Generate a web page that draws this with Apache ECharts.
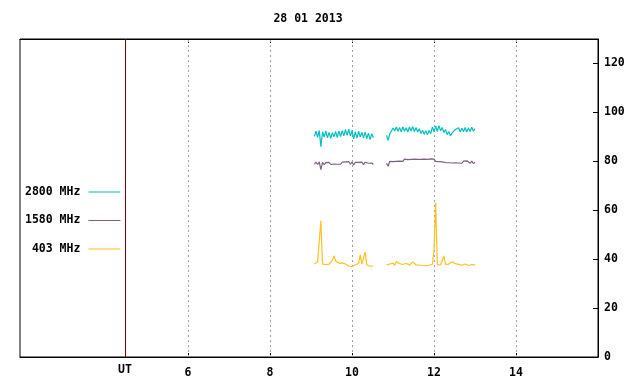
<!DOCTYPE html>
<html>
<head>
<meta charset="utf-8">
<script src="https://cdn.jsdelivr.net/npm/echarts@6/dist/echarts.min.js"></script>
<style>
  html, body { margin: 0; padding: 0; background: #fff; }
  #chart { width: 640px; height: 384px; }
</style>
</head>
<body>
<div id="chart"></div>
<script>
// time grid of the two recording blocks (UT hours)
const start1 = 9.08, start2 = 10.84, step = 0.04;

// 2800 MHz
const f2800a = [90.2, 92.3, 89.8, 92.6, 86.0, 92.1, 89.9, 92.4, 89.6, 91.8, 89.4, 91.7, 90.0, 92.2, 89.7, 92.3, 90.1, 92.5, 90.4, 93.0, 90.6, 93.1, 90.3, 92.6, 89.2, 92.0, 89.5, 92.3, 89.9, 91.8, 89.6, 91.9, 89.3, 91.5, 88.9, 91.3, 89.6];
const f2800b = [90.6, 88.6, 91.2, 92.0, 93.6, 92.4, 94.0, 92.3, 93.8, 92.1, 94.1, 92.3, 93.7, 92.0, 94.0, 92.4, 94.2, 92.2, 93.8, 92.0, 93.3, 91.4, 92.7, 91.0, 92.5, 90.9, 92.6, 91.3, 94.0, 92.0, 94.5, 92.2, 94.6, 92.5, 93.8, 91.8, 93.0, 90.9, 92.2, 90.4, 91.6, 91.0, 93.0, 92.2, 93.7, 92.0, 93.5, 92.1, 93.8, 92.0, 93.6, 92.2, 93.9, 92.3, 93.4];

// 1580 MHz
const f1580a = [78.8, 79.7, 78.7, 79.8, 76.6, 79.6, 78.6, 79.5, 79.0, 79.6, 78.7, 79.4, 78.9, 79.7, 78.8, 79.5, 78.8, 79.7, 78.9, 79.8, 79.0, 79.9, 78.8, 79.7, 78.5, 79.6, 79.0, 79.6, 78.9, 79.7, 78.6, 79.6, 78.8, 79.2, 78.5, 79.3, 78.7];
const f1580b = [79.2, 78.0, 80.0, 80.4, 79.9, 80.6, 80.0, 80.7, 80.1, 80.8, 80.0, 80.9, 80.2, 80.7, 80.2, 80.8, 80.3, 80.9, 80.1, 80.8, 80.2, 80.8, 80.4, 80.9, 80.3, 80.8, 80.1, 81.0, 80.3, 80.9, 80.0, 80.7, 79.9, 80.6, 79.8, 80.5, 79.5, 80.3, 79.4, 80.2, 79.3, 80.1, 79.4, 80.2, 79.3, 80.1, 79.2, 80.1, 79.3, 80.2, 79.4, 79.2, 80.1, 79.1, 79.5];

// 403 MHz
const f403a = [38.0, 38.6, 38.9, 38.3, 55.7, 38.0, 37.6, 37.7, 38.1, 38.0, 38.5, 39.5, 41.4, 39.2, 38.8, 38.4, 38.3, 38.5, 38.9, 38.0, 37.8, 37.2, 36.9, 37.0, 37.5, 37.7, 37.8, 38.2, 41.8, 38.0, 38.3, 43.0, 37.6, 37.3, 37.1, 36.9, 37.2];
const f403b = [37.6, 37.6, 38.0, 38.2, 38.4, 37.5, 38.9, 38.5, 38.2, 38.6, 37.8, 37.7, 38.3, 38.0, 37.5, 37.4, 38.9, 38.1, 37.7, 37.8, 37.6, 37.9, 37.4, 37.0, 37.3, 37.6, 37.5, 37.8, 37.9, 43.8, 63.0, 37.8, 37.6, 37.7, 37.9, 41.3, 37.9, 38.3, 38.0, 38.4, 38.9, 39.3, 38.2, 38.0, 37.9, 38.1, 37.5, 37.8, 38.0, 37.6, 37.4, 37.9, 37.8, 37.5, 37.7];

const xTicks = [6, 8, 10, 12, 14];
const utPos = 4.46;
const names = ['2800 MHz', '1580 MHz', '403 MHz'];
const colors = ['#00c0c0', '#7f5f7f', '#ffc020'];

function pairs(a, b) {
  const out = [];
  a.forEach((v, i) => out.push([+(start1 + i * step).toFixed(2), v]));
  out.push([10.68, null]);
  b.forEach((v, i) => out.push([+(start2 + i * step).toFixed(2), v]));
  return out;
}

const font = { fontFamily: 'DejaVu Sans Mono', fontWeight: 'bold', fontSize: 11.5, color: '#000' };

const chart = echarts.init(document.getElementById('chart'), null, { renderer: 'canvas' });

chart.setOption({
  animation: false,
  title: {
    text: '28 01 2013',
    left: 303,
    textAlign: 'center',
    top: 8,
    textStyle: font
  },
  legend: {
    orient: 'vertical',
    left: 20,
    top: 180,
    align: 'right',
    icon: 'rect',
    itemWidth: 32,
    itemHeight: 1,
    itemGap: 14.5,
    data: names,
    textStyle: Object.assign({}, font, { width: 55, align: 'right', lineHeight: 14, padding: [0, 3, 0, 0] })
  },
  grid: {
    left: 20, right: 42, top: 39, bottom: 27,
    show: true, borderColor: '#000', borderWidth: 1
  },
  xAxis: [{
    type: 'value', min: 1.9, max: 16, position: 'bottom',
    axisLine: { lineStyle: { color: '#000' } },
    axisTick: { inside: true, length: 4, customValues: xTicks, lineStyle: { color: '#000' } },
    axisLabel: Object.assign({}, font, { customValues: xTicks, margin: 10 }),
    splitLine: { show: false }
  }, {
    type: 'value', min: 1.9, max: 16, position: 'top',
    axisLine: { lineStyle: { color: '#000' } },
    axisTick: { inside: true, length: 4, customValues: xTicks, lineStyle: { color: '#000' } },
    axisLabel: { show: false },
    splitLine: { show: false }
  }],
  yAxis: {
    type: 'value', min: 0, max: 130, interval: 20, position: 'right',
    axisLine: { show: true, lineStyle: { color: '#000' } },
    axisTick: { show: true, inside: true, length: 5, lineStyle: { color: '#000' } },
    axisLabel: Object.assign({}, font, { margin: 6, showMaxLabel: false }),
    splitLine: { show: false }
  },
  series: [0, 1, 2].map(k => ({
    name: names[k],
    type: 'line',
    data: pairs([f2800a, f1580a, f403a][k], [f2800b, f1580b, f403b][k]),
    showSymbol: false,
    connectNulls: false,
    color: colors[k],
    lineStyle: { width: 1.2, color: colors[k] },
    z: 3,
    markLine: k === 0 ? {
      silent: true,
      symbol: 'none',
      animation: false,
      data: xTicks.map(v => ({ xAxis: v, lineStyle: { color: '#a0a0a0', type: [2, 3], width: 1 }, label: { show: false } }))
        .concat([{ xAxis: utPos, lineStyle: { color: '#800000', type: 'solid', width: 1 },
          label: Object.assign({}, font, { show: true, position: 'start', formatter: 'UT', distance: 7 }) }]),
      z: 1
    } : undefined
  }))
});
</script>
</body>
</html>
